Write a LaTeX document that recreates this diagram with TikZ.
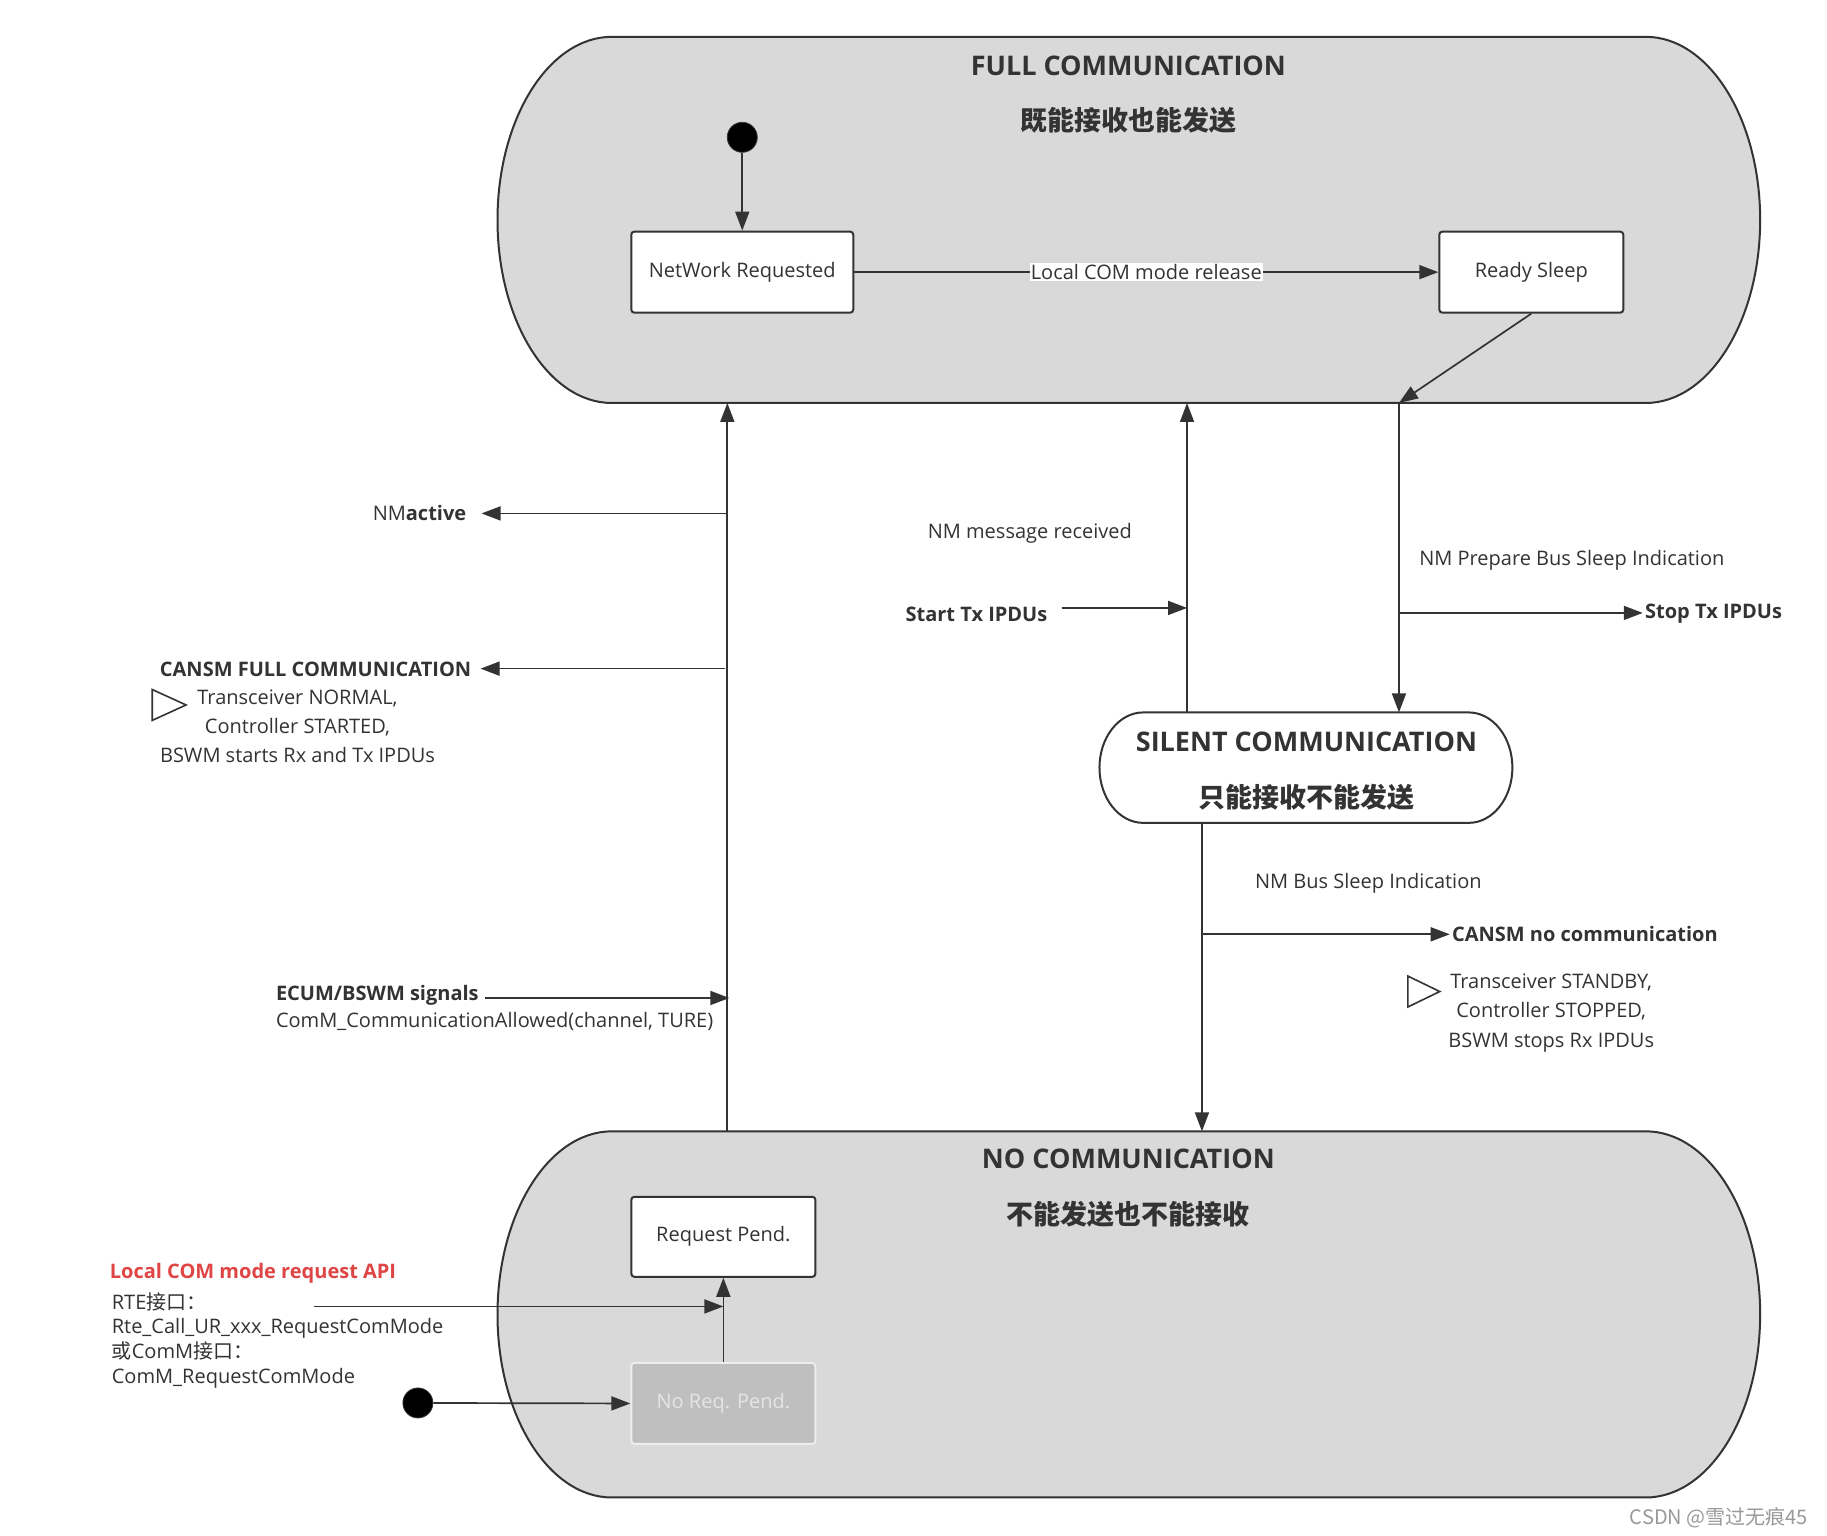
\documentclass[tikz,border=0pt]{standalone}
\usepackage{fontspec}
\setmainfont{Open Sans}
\newfontfamily\cjk{Noto Sans CJK SC}
\usetikzlibrary{arrows.meta,calc}
\definecolor{ln}{HTML}{333333}
\definecolor{stfill}{HTML}{D9D9D9}
\definecolor{apired}{HTML}{E04545}
\definecolor{nrpfill}{HTML}{BFBFBF}
\begin{document}
\begin{tikzpicture}[x=0.4975pt,y=-0.4975pt,
  line/.style={draw=ln,line width=0.85pt},
  arr/.style={line,-{Triangle[length=9.5pt,width=7pt]}},
  bigst/.style={draw=ln,line width=1pt,fill=stfill},
  box/.style={draw=ln,line width=1pt,fill=white,rounded corners=1.5pt,font=\fontsize{10}{12}\selectfont,text=ln},
  ttl/.style={font=\fontsize{13.5}{16}\selectfont\bfseries,text=ln},
  cttl/.style={font=\fontsize{13.5}{16}\selectfont\cjk\bfseries,text=ln},
  lbl/.style={font=\fontsize{10}{12}\selectfont,text=ln,inner sep=1pt},
  blbl/.style={font=\fontsize{10}{12}\selectfont\bfseries,text=ln,inner sep=1pt},
  tri/.style={draw=ln,line width=0.8pt,fill=white},
  dot/.style={circle,fill=black,draw=ln,minimum size=15pt,inner sep=0pt}
]
\useasboundingbox (0,0) rectangle (1836.2,1543.7);
\fill[white] (0,0) rectangle (1836.2,1543.7);

% FULL COMMUNICATION state
\path[bigst] (615,37) -- (1654,37) .. controls (1717.5,37) and (1769,119.4) .. (1769,221)
  .. controls (1769,322.6) and (1717.5,405) .. (1654,405) -- (615,405)
  .. controls (551.5,405) and (500,322.6) .. (500,221)
  .. controls (500,119.4) and (551.5,37) .. (615,37) -- cycle;
% NO COMMUNICATION state
\path[bigst] (615,1137) -- (1654,1137) .. controls (1717.5,1137) and (1769,1219.4) .. (1769,1321)
  .. controls (1769,1422.6) and (1717.5,1505) .. (1654,1505) -- (615,1505)
  .. controls (551.5,1505) and (500,1422.6) .. (500,1321)
  .. controls (500,1219.4) and (551.5,1137) .. (615,1137) -- cycle;
% SILENT COMMUNICATION state
\path[draw=ln,line width=1pt,fill=white] (1149,716) -- (1476,716) .. controls (1500.3,716) and (1520,740.85) .. (1520,771.5)
  .. controls (1520,802.15) and (1500.3,827) .. (1476,827) -- (1149,827)
  .. controls (1124.7,827) and (1105,802.15) .. (1105,771.5)
  .. controls (1105,740.85) and (1124.7,716) .. (1149,716) -- cycle;

\node[ttl] (fulltitle) at (1134,66) {FULL COMMUNICATION};
\node[cttl] (fullcn) at (1134,121) {既能接收也能发送};
\node[ttl] (notitle) at (1134,1165) {NO COMMUNICATION};
\node[cttl] (nocn) at (1134,1220) {不能发送也不能接收};
\node[ttl] (siltitle) at (1313,746) {SILENT COMMUNICATION};
\node[cttl] (silcn) at (1313,801) {只能接收不能发送};

% coordinates on state borders
\coordinate (fullB1) at (731,405);
\coordinate (fullB2) at (1193,405);
\coordinate (fullB3) at (1406,405);
\coordinate (nocT1) at (731,1137);
\coordinate (nocT2) at (1208,1137);
\coordinate (silT1) at (1193,716);
\coordinate (silT2) at (1406,716);
\coordinate (silB) at (1208,827);

% inner states
\node[box,minimum width=111pt,minimum height=40.5pt] (nr) at (746,273.5) {NetWork Requested};
\node[box,minimum width=92pt,minimum height=40.5pt] (rs) at (1539,273.5) {Ready Sleep};
\node[box,minimum width=92pt,minimum height=40pt] (rp) at (727,1243) {Request Pend.};
\node[box,draw=white!93!black,fill=nrpfill,text=white!90!black,minimum width=92pt,minimum height=40.5pt] (nrp) at (727,1410.5) {No Req. Pend.};

\node[dot] (init1) at (746,138) {};
\node[dot] (init2) at (420,1410) {};

% transitions inside FULL
\draw[arr] (init1) -- (nr.north);
\draw[arr] (nr.east) -- node[lbl,fill=white,inner sep=0.5pt] (lcr) {Local COM mode release} (rs.west);
\draw[arr] (rs.south) -- (fullB3);

% verticals
\draw[arr] (nocT1) -- (fullB1);
\draw[arr] (silT1) -- (fullB2);
\draw[arr] (fullB3) -- (silT2);
\draw[arr] (silB) -- (nocT2);

% left branches
\coordinate (nmaS) at (731,516);
\coordinate (nmaE) at (484,516);
\node[lbl,anchor=east] (nma) at (471,516) {NM\textbf{active}};
\draw[arr] (nmaS) -- (nmaE);
\coordinate (cfS) at (729,672);
\coordinate (cfE) at (483,672);
\node[blbl,anchor=east] (cansmfull) at (476,673) {CANSM FULL COMMUNICATION};
\draw[arr] (cfS) -- (cfE);
\path[tri] (153,693) -- (153,724) -- (187,708.5) -- cycle;
\node[lbl,align=center,font=\fontsize{10}{14.5}\selectfont] (tnormal) at (299,730) {Transceiver NORMAL,\\Controller STARTED,\\BSWM starts Rx and Tx IPDUs};

\node[blbl,anchor=west] (ecum) at (275,1000) {ECUM/BSWM signals};
\coordinate (ecumE) at (733,1003);
\draw[arr] ([xshift=2pt]ecum.east |- ecumE) -- (ecumE);
\node[lbl,anchor=west] (cca) at (275,1027) {ComM\_CommunicationAllowed(channel, TURE)};

% middle / right labels
\node[lbl] (nmrx) at (1035,536) {NM message received};
\node[blbl,anchor=east] (starttx) at (1055,617) {Start Tx IPDUs};
\coordinate (stE) at (1193,611);
\draw[arr] ([xshift=6pt]starttx.east |- stE) -- (stE);
\node[lbl,anchor=west] (nmprep) at (1424,563) {NM Prepare Bus Sleep Indication};
\coordinate (stopS) at (1406,616);
\node[blbl,anchor=west] (stoptx) at (1651,617) {Stop Tx IPDUs};
\draw[arr] (stopS) -- (stopS -| stoptx.west);

\node[lbl,anchor=west] (nmbus) at (1259,888) {NM Bus Sleep Indication};
\coordinate (cnoS) at (1208,939);
\node[blbl,anchor=west] (cansmno) at (1457,939) {CANSM no communication};
\draw[arr] (cnoS) -- (cansmno.west);
\path[tri] (1415,981) -- (1415,1012) -- (1447,996.5) -- cycle;
\node[lbl,align=center,font=\fontsize{10}{14.75}\selectfont] (tstandby) at (1559,1018) {Transceiver STANDBY,\\Controller STOPPED,\\BSWM stops Rx IPDUs};

% bottom left
\node[blbl,anchor=west,text=apired] (api) at (108,1280) {Local COM mode request API};
\node[lbl,anchor=west,align=left,font=\fontsize{10}{12.3}\selectfont] (rte) at (110,1347) {RTE{\cjk 接口：}\\Rte\_Call\_UR\_xxx\_RequestComMode\\{\cjk 或}ComM{\cjk 接口：}\\ComM\_RequestComMode};
\coordinate (rteS) at (316,1313);
\coordinate (rteE) at (727,1313);
\draw[arr] (rteS) -- (rteE);
\draw[arr] (nrp.north) -- (rp.south);
\draw[arr] (init2) -- (nrp.west);

\node[anchor=east,font=\fontsize{10}{12}\selectfont\cjk,text=black!40] (wm) at (1824,1525) {CSDN @雪过无痕45};
\end{tikzpicture}
\end{document}
